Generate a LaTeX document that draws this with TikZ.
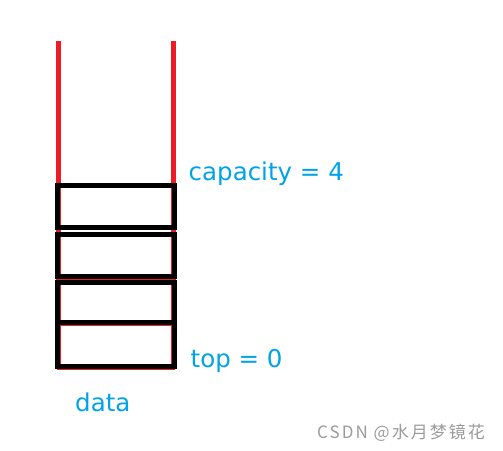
\documentclass[tikz,border=0pt]{standalone}
\usepackage{fontspec}
\setmainfont{DejaVu Sans}
\newfontfamily\cjk[LetterSpace=12]{Noto Sans CJK SC}
\definecolor{pblue}{RGB}{0,162,232}
\definecolor{pred}{RGB}{237,28,36}
\definecolor{wm}{RGB}{155,155,155}
\begin{document}
\begin{tikzpicture}[x=1pt,y=-1pt,
  wall/.style={draw=pred,line width=5pt},
  cell/.style={draw=black,line width=5pt},
  sep/.style={draw=pred,line width=1pt},
  lab/.style={text=pblue,font=\fontsize{24.5}{28}\selectfont,inner sep=0pt,anchor=base west},
  wmark/.style={text=wm,font=\cjk\fontsize{17}{19}\selectfont,inner sep=0pt,anchor=base west}]
\useasboundingbox (0,0) rectangle (503,450);
\coordinate (lt) at (58.5,41);
\coordinate (lb) at (58.5,368);
\coordinate (rt) at (173.5,41);
\coordinate (rb) at (173.5,368);
\draw[wall] (lt) -- (lb);
\draw[wall] (rt) -- (rb);
\draw[sep] (57,369.5) -- (175,369.5);
\draw[sep] (57,279.5) -- (175,279.5);
\draw[sep] (57,325.3) -- (175,325.3);
\draw[cell] (57.5,185.5) rectangle (174,227.5);
\draw[cell] (57.5,234.2) rectangle (174,276.8);
\draw[cell] (57.5,282.5) rectangle (174,322.5);
\draw[cell] (57.5,322.5) rectangle (174,366);
\node[lab] (cap) at (188.5,180) {capacity = 4};
\node[lab] (top) at (190.5,367) {top = 0};
\node[lab] (data) at (75,411.5) {data};
\node[wmark] (w) at (317,438.5) {CSDN @水月梦镜花};
\end{tikzpicture}
\end{document}
